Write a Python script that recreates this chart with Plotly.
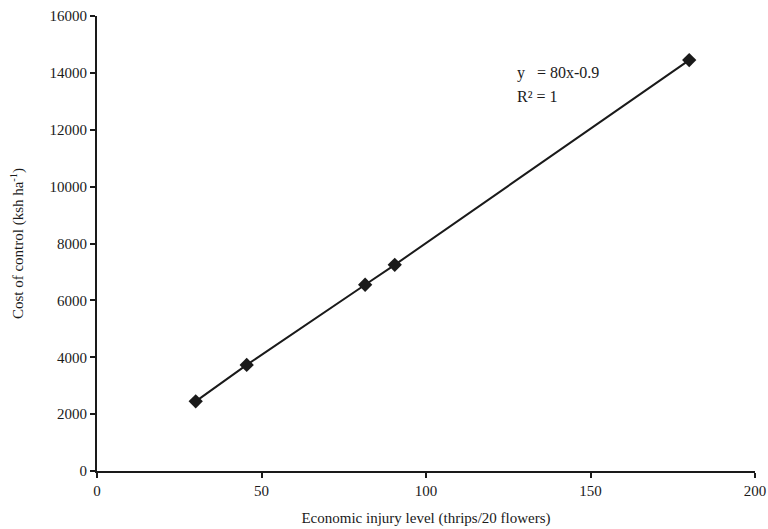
import plotly.graph_objects as go

eil = [30, 45.5, 81.5, 90.5, 180]
cost = [2450, 3730, 6550, 7250, 14450]
x_ticks = [0, 50, 100, 150, 200]
y_ticks = [0, 2000, 4000, 6000, 8000, 10000, 12000, 14000, 16000]

font = "Liberation Serif, Times New Roman, serif"
ink = "#1a1a1a"

fig = go.Figure()
fig.add_trace(go.Scatter(
    x=eil, y=cost, mode="lines+markers",
    line=dict(color=ink, width=2),
    marker=dict(symbol="diamond", size=11, color=ink),
    showlegend=False,
))

fig.add_annotation(x=127, y=14000, xref="x", yref="y", xanchor="left", yanchor="middle",
                   text="y   = 80x-0.9", showarrow=False, align="left",
                   font=dict(family=font, size=16, color=ink))
fig.add_annotation(x=127, y=13180, xref="x", yref="y", xanchor="left", yanchor="middle",
                   text="R² = 1", showarrow=False, align="left",
                   font=dict(family=font, size=16, color=ink))

axis_common = dict(showgrid=False, zeroline=False, showline=True, linecolor=ink, linewidth=2,
                   ticks="outside", ticklen=5, tickwidth=1.5, tickcolor=ink, automargin=False,
                   tickformat="d",
                   tickfont=dict(family=font, size=15, color=ink))

fig.update_layout(
    width=768, height=529,
    margin=dict(l=97, r=13, t=16, b=58, autoexpand=False),
    paper_bgcolor="white", plot_bgcolor="white",
    xaxis=dict(range=[0, 200], tickvals=x_ticks, **axis_common,
               title=dict(text="Economic injury level (thrips/20 flowers)",
                          font=dict(family=font, size=15, color=ink), standoff=14)),
    yaxis=dict(range=[0, 16000], tickvals=y_ticks, **axis_common,
               title=dict(text="Cost of control (ksh ha<sup>-1</sup>)",
                          font=dict(family=font, size=15, color=ink), standoff=22)),
)

fig.write_html("out.html")
